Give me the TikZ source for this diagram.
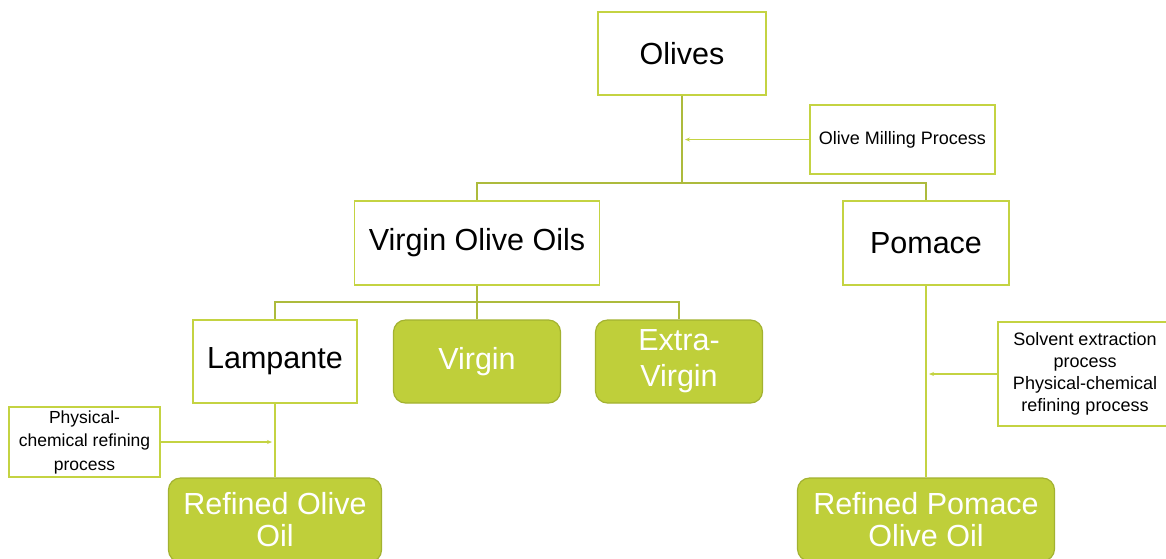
\documentclass[tikz,border=0pt]{standalone}
\usepackage{fontspec}
\setmainfont{Liberation Sans}
\usetikzlibrary{arrows.meta}
\definecolor{lineg}{HTML}{C4D342}
\definecolor{trunk}{HTML}{ADBB3C}
\definecolor{fillg}{HTML}{BFCF3A}
\definecolor{edgeg}{HTML}{A3B230}
\tikzset{
  x=1pt,y=1pt,
  plain/.style={draw=lineg, line width=1.3pt, fill=white, rectangle, align=center, inner sep=2pt, text=black},
  big/.style={font=\fontsize{30.5}{35}\selectfont},
  small/.style={font=\fontsize{18}{22}\selectfont},
  green/.style={draw=edgeg, line width=1.2pt, fill=fillg, rectangle, rounded corners=12pt, align=center, text=white, inner sep=2pt, font=\fontsize{30.5}{32}\selectfont},
  conn/.style={draw=trunk, line width=1.4pt},
  arr/.style={draw=lineg, line width=1.1pt, -{Stealth[length=5pt,width=4pt]}, shorten >=3pt},
}
\begin{document}
\begin{tikzpicture}
\useasboundingbox (0,0) rectangle (1166,-558);
\clip (0,0) rectangle (1166,-558);
% nodes
\node[plain,big,minimum width=168,minimum height=83] (olives) at (682,-53.5) {Olives};
\node[plain,small,minimum width=185,minimum height=69] (mill) at (902.5,-139.5) {Olive Milling Process};
\node[plain,big,minimum width=245,minimum height=84] (voo) at (477,-243) {Virgin Olive Oils};
\node[plain,big,minimum width=166,minimum height=84] (pom) at (926,-243) {Pomace};
\node[plain,big,minimum width=164,minimum height=83] (lamp) at (275,-361.5) {Lampante};
\node[green,minimum width=167,minimum height=83] (virgin) at (477,-361.5) {Virgin};
\node[green,minimum width=167,minimum height=83,font=\fontsize{30.5}{36}\selectfont] (extra) at (679,-361.5) {Extra-\\Virgin};
\node[plain,small,minimum width=151,minimum height=70,font=\fontsize{17.5}{23.5}\selectfont] (phys) at (84.5,-442) {Physical-\\chemical refining\\process};
\node[green,minimum width=213,minimum height=84] (refoo) at (275,-520) {Refined Olive\\Oil};
\node[plain,small,minimum width=174,minimum height=104] (solv) at (1085,-374) {Solvent extraction\\process\\Physical-chemical\\refining process};
\node[green,minimum width=257,minimum height=83] (refpom) at (926,-519.5) {Refined Pomace\\Olive Oil};
% junctions
\coordinate (j1) at (682,-183);
\coordinate (j2) at (477,-302);
% connectors
\draw[conn] (olives.south) -- (j1);
\draw[conn] (j1) -| (voo.north);
\draw[conn] (j1) -| (pom.north);
\draw[conn] (voo.south) -- (j2);
\draw[conn] (j2) -| (lamp.north);
\draw[conn] (j2) -- (virgin.north);
\draw[conn] (j2) -| (extra.north);
\draw[conn,draw=lineg] (lamp.south) -- (refoo.north);
\draw[conn,draw=lineg] (pom.south) -- (refpom.north);
\draw[arr] (mill.west) -- (mill.west -| olives.south);
\draw[arr] (phys.east) -- (phys.east -| lamp.south);
\draw[arr] (solv.west) -- (solv.west -| pom.south);
\end{tikzpicture}
\end{document}
